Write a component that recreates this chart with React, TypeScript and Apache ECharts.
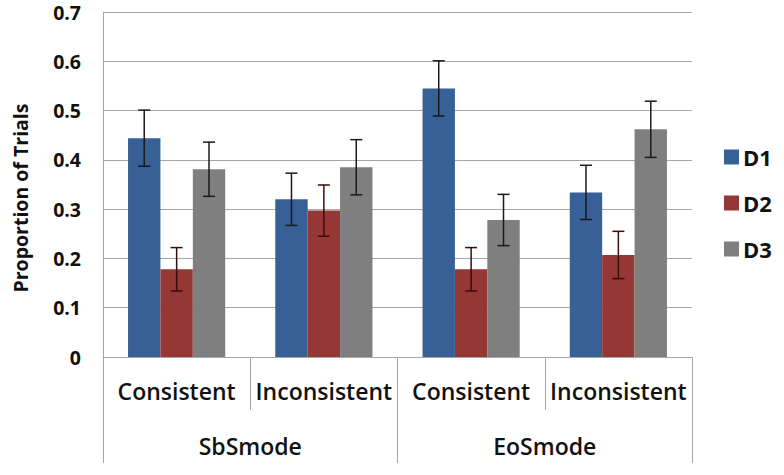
import React, { useEffect, useRef } from "react";
import * as echarts from "echarts";

const subCategories = ["Consistent", "Inconsistent", "Consistent", "Inconsistent"];
const groups = ["SbSmode", "EoSmode"];
const seriesNames = ["D1", "D2", "D3"];
const d1Values = [0.444, 0.32, 0.545, 0.334];
const d2Values = [0.178, 0.297, 0.178, 0.207];
const d3Values = [0.381, 0.385, 0.278, 0.462];
const d1Errors = [0.057, 0.053, 0.056, 0.055];
const d2Errors = [0.044, 0.052, 0.044, 0.048];
const d3Errors = [0.055, 0.056, 0.052, 0.057];
const colors = ["#376096", "#953735", "#7f7f7f"];
const errColors = ["#1a1a1a", "#3a0c0c", "#1a1a1a"];

const FONT = "Open Sans";

export default function App() {
  const ref = useRef<HTMLDivElement>(null);
  useEffect(() => {
    if (!ref.current) return;
    const chart = echarts.init(ref.current, null, { renderer: "svg" });
    const values = [d1Values, d2Values, d3Values];
    const errors = [d1Errors, d2Errors, d3Errors];
    const gapFrac = 0.34;
    const errData: any[] = [];
    values.forEach((vals, s) => {
      vals.forEach((v, i) => {
        errData.push([i, v, errors[s][i], s]);
      });
    });
    const option: any = {
      animation: false,
      backgroundColor: "#ffffff",
      grid: { left: 103, right: 92, top: 12, bottom: 118, containLabel: false },
      legend: {
        orient: "vertical",
        left: 719,
        top: 141,
        itemWidth: 15,
        itemHeight: 15,
        itemGap: 24,
        icon: "rect",
        data: seriesNames,
        textStyle: { fontFamily: FONT, fontSize: 22, fontWeight: "bold", color: "#111", padding: [0, 0, 0, -1] },
      },
      graphic: [
        {
          type: "text",
          x: 20,
          y: 198,
          rotation: Math.PI / 2,
          style: {
            text: "Proportion of Trials",
            fontFamily: FONT,
            fontSize: 19.5,
            fontWeight: "bold",
            fill: "#111",
            align: "center",
            verticalAlign: "middle",
          },
        },
      ],
      xAxis: [
        {
          type: "category",
          data: subCategories,
          position: "bottom",
          axisLine: { show: true, lineStyle: { color: "#a6a6a6", width: 1 } },
          axisTick: { show: true, length: 53, lineStyle: { color: "#a6a6a6" } },
          axisLabel: {
            margin: 22,
            fontFamily: FONT,
            fontSize: 23,
            fontWeight: 600,
            color: "#111",
            interval: 0,
          },
          splitLine: { show: false },
        },
        {
          type: "category",
          data: groups,
          position: "bottom",
          offset: 53,
          axisLine: { show: false },
          axisTick: { show: true, length: 53, lineStyle: { color: "#a6a6a6" } },
          axisLabel: {
            margin: 24,
            fontFamily: FONT,
            fontSize: 23,
            fontWeight: 600,
            color: "#111",
            interval: 0,
          },
          splitLine: { show: false },
        },
      ],
      yAxis: {
        type: "value",
        min: 0,
        max: 0.7,
        interval: 0.1,
        axisLine: { show: true, lineStyle: { color: "#a6a6a6" } },
        axisTick: { show: false },
        axisLabel: {
          margin: 22,
          fontFamily: FONT,
          fontSize: 19.5,
          fontWeight: "bold",
          color: "#111",
          formatter: (v: number) => (v === 0 ? "0" : v.toFixed(1)),
        },
        splitLine: { show: true, lineStyle: { color: "#a6a6a6", width: 1 } },
      },
      series: [
        ...seriesNames.map((name, s) => ({
          name,
          type: "bar",
          xAxisIndex: 0,
          data: values[s],
          barGap: "0%",
          barCategoryGap: gapFrac * 100 + "%",
          itemStyle: { color: colors[s] },
        })),
        {
          type: "custom",
          xAxisIndex: 0,
          data: errData,
          z: 10,
          renderItem: (params: any, api: any) => {
            const idx = api.value(0);
            const v = api.value(1);
            const e = api.value(2);
            const s = api.value(3);
            const band = api.size([1, 0])[0];
            const bw = (band * (1 - gapFrac)) / 3;
            const top = api.coord([idx, v + e]);
            const bot = api.coord([idx, v - e]);
            const x = top[0] + (s - 1) * bw;
            const cap = 6;
            const style = { stroke: errColors[s], lineWidth: 1.5 };
            return {
              type: "group",
              children: [
                { type: "line", shape: { x1: x, y1: top[1], x2: x, y2: bot[1] }, style },
                { type: "line", shape: { x1: x - cap, y1: top[1], x2: x + cap, y2: top[1] }, style },
                { type: "line", shape: { x1: x - cap, y1: bot[1], x2: x + cap, y2: bot[1] }, style },
              ],
            };
          },
        },
      ],
    };
    chart.setOption(option);
    return () => chart.dispose();
  }, []);
  return (
    <div
      ref={ref}
      style={{ position: "absolute", left: 0, top: 0, width: 784, height: 475 }}
    />
  );
}
